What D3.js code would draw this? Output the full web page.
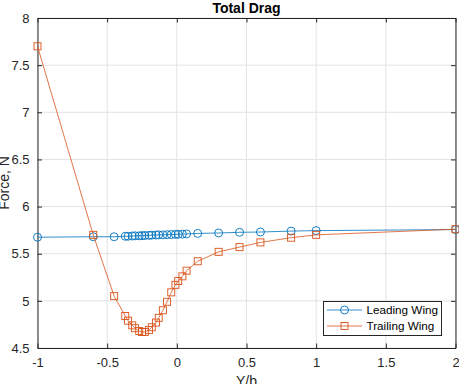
<!DOCTYPE html>
<html>
<head>
<meta charset="utf-8">
<script src="https://cdn.jsdelivr.net/npm/d3@7"></script>
<style>
body { margin: 0; background: #fff; }
text { font-family: Arial, "Liberation Sans", Helvetica, sans-serif; fill: #262626; }
</style>
</head>
<body>
<script>
// spanwise positions (Y/b), shared by both series
const yb = [-1, -0.6, -0.45, -0.37, -0.35, -0.32, -0.3, -0.27, -0.25, -0.23, -0.2, -0.18, -0.15, -0.13,
            -0.1, -0.07, -0.04, -0.01, 0.01, 0.04, 0.07, 0.15, 0.3, 0.45, 0.6, 0.82, 1, 2];
const leadingDrag = [5.675, 5.68, 5.68, 5.685, 5.685, 5.688, 5.69, 5.69, 5.692, 5.693, 5.695, 5.697, 5.698, 5.70,
                     5.70, 5.702, 5.704, 5.705, 5.706, 5.708, 5.71, 5.715, 5.72, 5.727, 5.73, 5.74, 5.745, 5.756];
const trailingDrag = [7.70, 5.70, 5.05, 4.84, 4.79, 4.74, 4.71, 4.68, 4.67, 4.67, 4.69, 4.72, 4.77, 4.82,
                      4.90, 4.99, 5.09, 5.17, 5.21, 5.26, 5.32, 5.42, 5.52, 5.57, 5.62, 5.67, 5.70, 5.76];
const seriesNames = ["Leading Wing", "Trailing Wing"];
const xTicks = [-1, -0.5, 0, 0.5, 1, 1.5, 2];
const xTickLabels = ["-1", "-0.5", "0", "0.5", "1", "1.5", "2"];
const yTicks = [4.5, 5, 5.5, 6, 6.5, 7, 7.5, 8];
const yTickLabels = ["4.5", "5", "5.5", "6", "6.5", "7", "7.5", "8"];

const W = 459, H = 384;
const margin = {top: 18, right: 3.5, bottom: 36, left: 37.5};

const svg = d3.select("body").append("svg")
    .attr("width", W)
    .attr("height", H);

const x = d3.scaleLinear().domain([-1, 2]).range([margin.left, W - margin.right]);
const y = d3.scaleLinear().domain([4.5, 8]).range([H - margin.bottom, margin.top]);

const colors = ["#0072BD", "#D95319"];

// grid
svg.append("g").selectAll("line.gx").data(xTicks).join("line")
    .attr("x1", d => x(d)).attr("x2", d => x(d))
    .attr("y1", y(4.5)).attr("y2", y(8))
    .attr("stroke", "#e3e3e3").attr("stroke-width", 1);
svg.append("g").selectAll("line.gy").data(yTicks).join("line")
    .attr("y1", d => y(d)).attr("y2", d => y(d))
    .attr("x1", x(-1)).attr("x2", x(2))
    .attr("stroke", "#e3e3e3").attr("stroke-width", 1);

// axes, ticks inside, box on
const tickLen = 4.5;
const axisColor = "#262626";
const gx = svg.append("g")
    .attr("transform", `translate(0,${y(4.5)})`)
    .call(d3.axisBottom(x).tickValues(xTicks).tickSizeInner(-tickLen).tickSizeOuter(0)
        .tickPadding(10).tickFormat((d, i) => xTickLabels[i]));
const gy = svg.append("g")
    .attr("transform", `translate(${x(-1)},0)`)
    .call(d3.axisLeft(y).tickValues(yTicks).tickSizeInner(-tickLen).tickSizeOuter(0)
        .tickPadding(8).tickFormat((d, i) => yTickLabels[i]));
const gxTop = svg.append("g")
    .attr("transform", `translate(0,${y(8)})`)
    .call(d3.axisTop(x).tickValues(xTicks).tickSizeInner(-tickLen).tickSizeOuter(0).tickFormat(""));
const gyRight = svg.append("g")
    .attr("transform", `translate(${x(2)},0)`)
    .call(d3.axisRight(y).tickValues(yTicks).tickSizeInner(-tickLen).tickSizeOuter(0).tickFormat(""));

[gx, gy, gxTop, gyRight].forEach(g => {
    g.select(".domain").attr("stroke", axisColor);
    g.selectAll(".tick line").attr("stroke", axisColor);
    g.selectAll(".tick text").attr("font-size", 13).style("fill", axisColor)
        .attr("font-family", "Arial, 'Liberation Sans', sans-serif");
});

// title and labels
svg.append("text")
    .attr("x", (x(-1) + x(2)) / 2).attr("y", 13)
    .attr("text-anchor", "middle")
    .attr("font-size", 14).attr("font-weight", "bold")
    .style("fill", "#000")
    .text("Total Drag");
svg.append("text")
    .attr("x", (x(-1) + x(2)) / 2).attr("y", 385.5)
    .attr("text-anchor", "middle")
    .attr("font-size", 14)
    .text("Y/b");
svg.append("text")
    .attr("transform", `translate(8.5,${(y(4.5) + y(8)) / 2}) rotate(-90)`)
    .attr("text-anchor", "middle")
    .attr("font-size", 14)
    .text("Force, N");

// series
const line = d3.line().x(d => x(d[0])).y(d => y(d[1]));
const series = [
    yb.map((v, i) => [v, leadingDrag[i]]),
    yb.map((v, i) => [v, trailingDrag[i]])
];

function marker(g, k, cx, cy) {
    if (k === 0) {
        g.append("circle").attr("cx", cx).attr("cy", cy).attr("r", 4)
            .attr("fill", "none").attr("stroke", colors[0]).attr("stroke-width", 0.9);
    } else {
        g.append("rect").attr("x", cx - 3.5).attr("y", cy - 3.5)
            .attr("width", 7).attr("height", 7)
            .attr("fill", "none").attr("stroke", colors[1]).attr("stroke-width", 0.9);
    }
}

series.forEach((s, k) => {
    const g = svg.append("g");
    g.append("path").datum(s)
        .attr("fill", "none").attr("stroke", colors[k]).attr("stroke-width", 0.8)
        .attr("d", line);
    s.forEach(d => marker(g, k, x(d[0]), y(d[1])));
});

// legend
const lg = svg.append("g");
lg.append("rect")
    .attr("x", 323.5).attr("y", 301.5).attr("width", 118).attr("height", 34)
    .attr("fill", "#fff").attr("stroke", axisColor).attr("stroke-width", 1);
seriesNames.forEach((name, k) => {
    const cy = 310 + k * 16;
    lg.append("line").attr("x1", 327).attr("x2", 362).attr("y1", cy).attr("y2", cy)
        .attr("stroke", colors[k]).attr("stroke-width", 0.8);
    marker(lg, k, 344.5, cy);
    lg.append("text").attr("x", 366.5).attr("y", cy + 4.2)
        .attr("font-size", 11.7).style("fill", "#000")
        .text(name);
});
</script>
</body>
</html>
